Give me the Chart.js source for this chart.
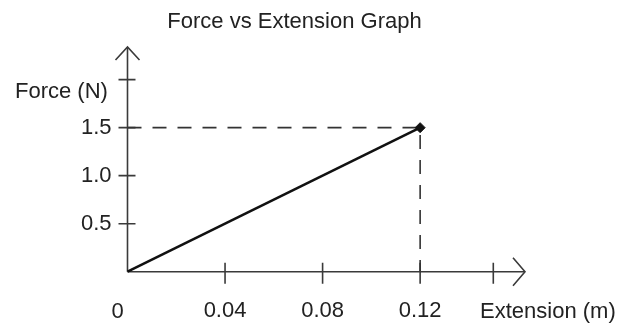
<!DOCTYPE html>
<html><head><meta charset="utf-8">
<script src="https://cdn.jsdelivr.net/npm/chart.js@4"></script>
<style>html,body{margin:0;padding:0;background:#fff}#wrap{width:618px;height:330px}</style>
</head><body><div id="wrap"><canvas id="c" width="618" height="330"></canvas></div>
<script>
const chartTitle = 'Force vs Extension Graph';
const xAxisTitle = 'Extension (m)';
const yAxisTitle = 'Force (N)';
const extension = [0, 0.12];
const force = [0, 1.5];
const xTickValues = [0.04, 0.08, 0.12];
const xTickLabels = ['0.04', '0.08', '0.12'];
const xOriginLabel = '0';
const yTickValues = [0.5, 1.0, 1.5];
const yTickLabels = ['0.5', '1.0', '1.5'];
const xExtraTicks = [0.15];
const yExtraTicks = [2.0];
const xMax = 0.163;
const yMax = 2.34;

const FONT = '"Liberation Sans", Arial, sans-serif';
const TXT = '#222';
const AX = '#3a3a3a';

const linePts = extension.map((x, i) => ({x, y: force[i]}));
const last = linePts[linePts.length - 1];
const guidePts = [{x: 0, y: last.y}, {x: last.x, y: last.y}, {x: last.x, y: 0}];

const axesPlugin = {
  id: 'axesPlugin',
  beforeDatasetsDraw(chart) {
    const {ctx} = chart;
    const xs = chart.scales.x, ys = chart.scales.y;
    const ox = xs.getPixelForValue(0), oy = ys.getPixelForValue(0);
    const top = chart.chartArea.top, right = chart.chartArea.right;
    ctx.save();
    ctx.strokeStyle = AX; ctx.lineWidth = 1.6; ctx.lineCap = 'butt';
    ctx.beginPath();
    ctx.moveTo(ox, oy); ctx.lineTo(ox, top);
    ctx.moveTo(ox, oy); ctx.lineTo(right, oy);
    xTickValues.concat(xExtraTicks).forEach(v => { const p = xs.getPixelForValue(v); ctx.moveTo(p, oy - 9); ctx.lineTo(p, oy + 12); });
    yTickValues.concat(yExtraTicks).forEach(v => { const p = ys.getPixelForValue(v); ctx.moveTo(ox - 9, p); ctx.lineTo(ox + 8, p); });
    ctx.stroke();
    ctx.beginPath();
    ctx.moveTo(ox - 12, top + 13); ctx.lineTo(ox, top); ctx.lineTo(ox + 12, top + 13);
    ctx.moveTo(right - 12, oy - 14); ctx.lineTo(right, oy); ctx.lineTo(right - 12, oy + 14);
    ctx.stroke();
    ctx.restore();
  },
  afterDraw(chart) {
    const {ctx} = chart;
    const xs = chart.scales.x;
    ctx.save();
    ctx.fillStyle = TXT;
    ctx.textBaseline = 'alphabetic';
    ctx.font = '22px ' + FONT;
    ctx.textAlign = 'center';
    ctx.fillText(chartTitle, 294.5, 27.5);
    ctx.textAlign = 'left';
    ctx.fillText(yAxisTitle, 15, 98);
    ctx.fillText(xAxisTitle, 480, 318);
    ctx.textAlign = 'center';
    ctx.fillText(xOriginLabel, xs.getPixelForValue(0) - 10, 318);
    ctx.restore();
  }
};

new Chart(document.getElementById('c'), {
  type: 'scatter',
  data: {
    datasets: [
      {data: guidePts, showLine: true, borderColor: '#333', borderWidth: 1.6, borderDash: [14, 11], pointRadius: 0, fill: false, order: 2},
      {data: linePts, showLine: true, borderColor: '#111', borderWidth: 2.6, pointStyle: 'rectRot',
       pointRadius: linePts.map((p, i) => i === linePts.length - 1 ? 5 : 0), pointBackgroundColor: '#111', pointBorderColor: '#111', pointBorderWidth: 1, fill: false, clip: false, order: 1}
    ]
  },
  options: {
    responsive: false, animation: false, devicePixelRatio: 1,
    layout: {padding: {left: 0, right: 93, top: 47, bottom: 0}},
    plugins: {legend: {display: false}, tooltip: {enabled: false}, title: {display: false}},
    scales: {
      x: {type: 'linear', min: 0, max: xMax,
        grid: {display: false, drawTicks: false}, border: {display: false},
        afterBuildTicks: s => { s.ticks = xTickValues.map(v => ({value: v})); },
        afterFit: s => { s.height = 58.3; },
        ticks: {padding: 26, maxRotation: 0, autoSkip: false, color: TXT, font: {family: FONT, size: 22},
          callback: (v, i) => xTickLabels[i]}
      },
      y: {type: 'linear', min: 0, max: yMax,
        grid: {display: false, drawTicks: false}, border: {display: false},
        afterBuildTicks: s => { s.ticks = yTickValues.map(v => ({value: v})); },
        afterFit: s => { s.width = 127.5; },
        ticks: {padding: 16, autoSkip: false, color: TXT, font: {family: FONT, size: 22},
          callback: (v, i) => yTickLabels[i]}
      }
    }
  },
  plugins: [axesPlugin]
});
</script></body></html>
